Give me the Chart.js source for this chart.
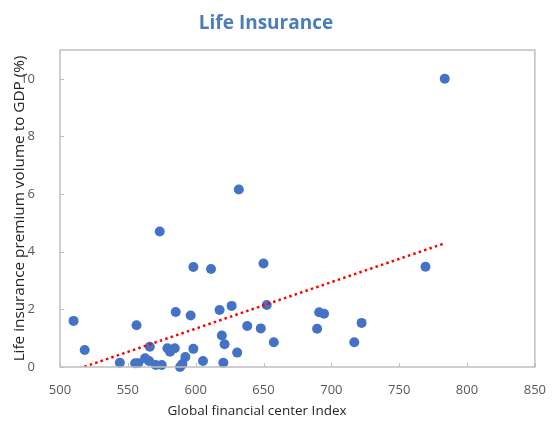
<!DOCTYPE html>
<html>
<head>
<meta charset="utf-8">
<script src="https://cdn.jsdelivr.net/npm/chart.js@4/dist/chart.umd.min.js"></script>
<style>
  body { margin: 0; background: #fff; }
  #wrap { width: 553px; height: 421px; }
</style>
</head>
<body>
<div id="wrap"><canvas id="lifeChart" width="553" height="421"></canvas></div>
<script>
// GFCI score vs. life premium volume as % of GDP
const gfciScore = [510.0, 518.2, 544.1, 556.4, 555.4, 557.6, 562.7, 565.7, 566.2, 570.6,
                   575.0, 573.5, 585.3, 579.2, 584.6, 581.1, 588.5, 590.2, 592.4, 596.3,
                   598.3, 598.3, 605.4, 611.3, 617.6, 619.3, 621.3, 620.4, 626.5, 630.6,
                   631.8, 638.0, 648.0, 650.0, 652.4, 657.6, 689.5, 691.0, 694.6, 716.9,
                   722.3, 769.4, 783.6];
const premiumPct = [1.60, 0.59, 0.15, 1.45, 0.13, 0.13, 0.30, 0.21, 0.70, 0.07,
                    0.07, 4.70, 1.91, 0.65, 0.65, 0.53, 0.00, 0.10, 0.35, 1.79,
                    3.47, 0.63, 0.21, 3.40, 1.98, 1.09, 0.79, 0.15, 2.12, 0.50,
                    6.16, 1.42, 1.34, 3.59, 2.15, 0.86, 1.33, 1.90, 1.85, 0.86,
                    1.53, 3.48, 10.0];

// linear trend endpoints
const trendX = [510, 784];
const trendY = [-0.12, 4.30];

const xTickValues = [500, 550, 600, 650, 700, 750, 800, 850];
const yTickValues = [0, 2, 4, 6, 8, 10];

const fontFamily = "'Open Sans', 'Noto Sans', sans-serif";

// frame around the plot, short inward tick marks, chart title and x axis title
const frameAndTicks = {
    id: 'frameAndTicks',
    afterDraw(chart) {
        const { ctx, chartArea: a, scales } = chart;
        ctx.save();
        ctx.setLineDash([]);
        ctx.strokeStyle = '#bfbfbf';
        ctx.lineWidth = 1.5;
        ctx.beginPath();
        ctx.rect(a.left, a.top, a.right - a.left, a.bottom - a.top);
        ctx.stroke();

        ctx.lineWidth = 1;
        ctx.beginPath();
        xTickValues.forEach(v => {
            const px = Math.round(scales.x.getPixelForValue(v)) + 0.5;
            ctx.moveTo(px, a.bottom);
            ctx.lineTo(px, a.bottom - 4);
        });
        yTickValues.forEach(v => {
            const py = Math.round(scales.y.getPixelForValue(v)) + 0.5;
            ctx.moveTo(a.left, py);
            ctx.lineTo(a.left + 4, py);
        });
        ctx.stroke();

        ctx.textAlign = 'center';
        ctx.textBaseline = 'middle';
        ctx.fillStyle = '#4a7ebb';
        ctx.font = 'bold 19px ' + fontFamily;
        ctx.fillText('Life Insurance', 266, 23.5);

        ctx.fillStyle = '#262626';
        ctx.font = '13.5px ' + fontFamily;
        ctx.fillText('Global financial center Index', a.left + (a.right - a.left) * 0.415, 411);
        ctx.restore();
    }
};

const points = gfciScore.map((x, i) => ({ x: x, y: premiumPct[i] }));
const trendPoints = trendX.map((x, i) => ({ x: x, y: trendY[i] }));

new Chart(document.getElementById('lifeChart'), {
    type: 'scatter',
    data: {
        datasets: [{
            type: 'line',
            label: 'Trend',
            data: trendPoints,
            borderColor: '#ff0000',
            borderWidth: 2.5,
            borderDash: [2.5, 3.2],
            pointRadius: 0,
            fill: false,
            clip: 0,
            order: 0
        }, {
            label: 'Life insurance',
            data: points,
            backgroundColor: '#4472c4',
            borderColor: '#4472c4',
            borderWidth: 0,
            pointRadius: 5,
            clip: false,
            order: 1
        }]
    },
    options: {
        responsive: false,
        animation: false,
        layout: { padding: { top: 50, left: 10, right: 17, bottom: 0 } },
        plugins: {
            legend: { display: false },
            tooltip: { enabled: false },
            title: { display: false }
        },
        scales: {
            x: {
                type: 'linear',
                min: 500,
                max: 850,
                grid: { display: false },
                border: { display: false },
                ticks: {
                    stepSize: 50,
                    padding: 7,
                    color: '#595959',
                    font: { family: fontFamily, size: 13 }
                },
                afterFit(scale) { scale.height = 54; }
            },
            y: {
                type: 'linear',
                min: 0,
                max: 11,
                grid: { display: false },
                border: { display: false },
                afterBuildTicks(scale) {
                    scale.ticks = yTickValues.map(v => ({ value: v }));
                },
                ticks: {
                    stepSize: 2,
                    padding: 17,
                    color: '#595959',
                    font: { family: fontFamily, size: 13 }
                },
                title: {
                    display: true,
                    text: 'Life insurance premium volume to GDP (%)',
                    color: '#262626',
                    font: { family: fontFamily, size: 15.3 },
                    padding: 0
                },
                afterFit(scale) { scale.width = 50; }
            }
        }
    },
    plugins: [frameAndTicks]
});
</script>
</body>
</html>
